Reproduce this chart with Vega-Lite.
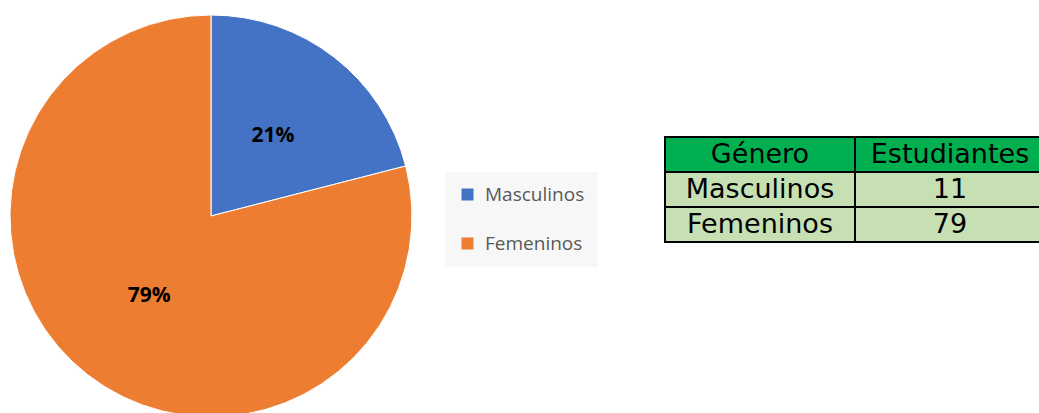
{
  "$schema": "https://vega.github.io/schema/vega-lite/v6.json",
  "background": "white",
  "padding": 0,
  "bounds": "flush",
  "spacing": 243,
  "config": {"view": {"stroke": null}},
  "datasets": {
    "pie": [
      {"genero": "Masculinos", "pct": 21, "orden": 1, "etiqueta": "21%"},
      {"genero": "Femeninos", "pct": 79, "orden": 2, "etiqueta": "79%"}
    ],
    "tabla": [
      {"fila": "Encabezado", "columna": "c1", "texto": "Género", "tipo": "encabezado"},
      {"fila": "Encabezado", "columna": "c2", "texto": "Estudiantes", "tipo": "encabezado"},
      {"fila": "Masculinos", "columna": "c1", "texto": "Masculinos", "tipo": "cuerpo"},
      {"fila": "Masculinos", "columna": "c2", "texto": "11", "tipo": "cuerpo"},
      {"fila": "Femeninos", "columna": "c1", "texto": "Femeninos", "tipo": "cuerpo"},
      {"fila": "Femeninos", "columna": "c2", "texto": "79", "tipo": "cuerpo"}
    ],
    "vacio": [{"n": 1}]
  },
  "resolve": {"scale": {"color": "independent", "fill": "independent"}},
  "hconcat": [
    {
      "width": 422,
      "height": 432,
      "data": {"name": "pie"},
      "encoding": {
        "theta": {"field": "pct", "type": "quantitative", "stack": true},
        "order": {"field": "orden", "type": "quantitative"}
      },
      "layer": [
        {
          "mark": {"type": "arc", "outerRadius": 201, "stroke": "white", "strokeWidth": 1},
          "encoding": {
            "color": {
              "field": "genero",
              "type": "nominal",
              "scale": {"domain": ["Masculinos", "Femeninos"], "range": ["#4472C4", "#ED7D31"]},
              "legend": {
                "title": null,
                "orient": "none",
                "legendX": 445,
                "legendY": 172,
                "direction": "vertical",
                "symbolType": "square",
                "symbolSize": 144,
                "symbolStrokeWidth": 0,
                "labelFont": "Open Sans",
                "labelFontSize": 19,
                "labelColor": "#595959",
                "labelOffset": 8,
                "rowPadding": 29,
                "padding": 13,
                "fillColor": "#F7F7F7"
              }
            }
          }
        },
        {
          "mark": {"type": "text", "radius": 101, "font": "Open Sans", "fontWeight": "bold", "fontSize": 21, "color": "black"},
          "encoding": {"text": {"field": "etiqueta"}}
        }
      ]
    },
    {
      "bounds": "flush",
      "spacing": 136,
      "vconcat": [
        {
          "width": 380,
          "height": 1,
          "data": {"name": "vacio"},
          "mark": {"type": "rect", "opacity": 0},
          "encoding": {}
        },
        {
          "width": 380,
          "height": 105,
          "data": {"name": "tabla"},
          "encoding": {
            "x": {"field": "columna", "type": "nominal", "axis": null, "scale": {"domain": ["c1", "c2"], "paddingInner": 0, "paddingOuter": 0}},
            "y": {"field": "fila", "type": "nominal", "axis": null, "scale": {"domain": ["Encabezado", "Masculinos", "Femeninos"], "paddingInner": 0, "paddingOuter": 0}}
          },
          "layer": [
            {
              "mark": {"type": "rect", "stroke": "black", "strokeWidth": 2},
              "encoding": {
                "fill": {"field": "tipo", "type": "nominal", "scale": {"domain": ["encabezado", "cuerpo"], "range": ["#00B050", "#C6E0B4"]}, "legend": null}
              }
            },
            {
              "mark": {"type": "text", "font": "DejaVu Sans", "fontSize": 27, "color": "black"},
              "encoding": {"text": {"field": "texto"}}
            }
          ]
        }
      ]
    }
  ]
}
